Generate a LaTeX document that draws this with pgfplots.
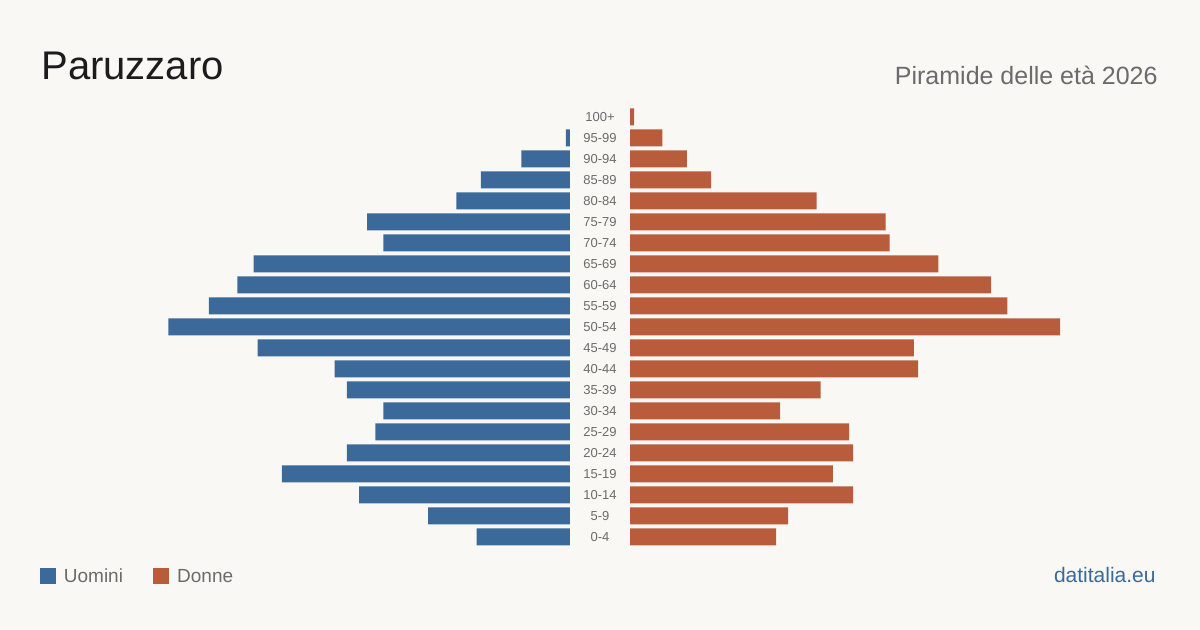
\documentclass[border=0pt]{standalone}
\usepackage{fontspec}
\setmainfont{Liberation Sans}
\usepackage{pgfplots}
\usepackage{pgfplotstable}
\pgfplotsset{compat=1.18}

\definecolor{sfondo}{HTML}{F9F8F4}
\definecolor{uomini}{HTML}{3B6A9A}
\definecolor{donne}{HTML}{B95C3C}
\definecolor{titolo}{HTML}{1C1C1C}
\definecolor{grigio}{HTML}{6B6B6B}

% Residenti per classe di età (0 = 0-4, ..., 20 = 100+)
\pgfplotstableread{
eta uomini donne
0   23  36
1   35  39
2   52  55
3   71  50
4   55  55
5   48  54
6   46  37
7   55  47
8   58  71
9   77  70
10  99  106
11  89  93
12  82  89
13  78  76
14  46  64
15  50  63
16  28  46
17  22  20
18  12  14
19  1   8
20  nan 1
}\piramide

\pgfplotsset{
  meta/.style={
    scale only axis, anchor=south west,
    width=215pt, height=220.5pt,
    xmin=0, xmax=106, ymin=-0.5, ymax=20.5,
    hide axis, clip=false, xbar, bar width=8.5pt,
    unbounded coords=discard,
  },
}

\begin{document}
\begin{tikzpicture}[x=1pt,y=1pt]
\fill[sfondo] (0,0) rectangle (600,315);

% Uomini: barre verso sinistra
\begin{axis}[meta, at={(70pt,41.25pt)}, x dir=reverse]
\addplot[fill=uomini, draw=none, bar shift=0pt] table[x=uomini, y=eta] {\piramide};
\end{axis}

% Donne: barre verso destra
\begin{axis}[meta, at={(315pt,41.25pt)}]
\addplot[fill=donne, draw=none, bar shift=0pt] table[x=donne, y=eta] {\piramide};
\end{axis}

% Classi di età al centro
\foreach \lab [count=\i from 0] in {0-4,5-9,10-14,15-19,20-24,25-29,30-34,35-39,40-44,45-49,50-54,55-59,60-64,65-69,70-74,75-79,80-84,85-89,90-94,95-99,100+}
  \node[font=\fontsize{6.5}{7}\selectfont, text=grigio, inner sep=0] at (300, 46.4+10.5*\i) {\lab};

% Titoli
\node[anchor=base west, inner sep=0, font=\fontsize{20}{24}\selectfont, text=titolo] at (20.5,275) {Paruzzaro};
\node[anchor=base east, inner sep=0, font=\fontsize{12.5}{15}\selectfont, text=grigio] at (579,272.6) {Piramide delle età 2026};

% Legenda
\fill[uomini] (20,23) rectangle (28,31);
\node[anchor=base west, inner sep=0, font=\fontsize{9.5}{11}\selectfont, text=grigio] at (31.75,23.65) {Uomini};
\fill[donne] (76.5,23) rectangle (84.5,31);
\node[anchor=base west, inner sep=0, font=\fontsize{9.5}{11}\selectfont, text=grigio] at (88.4,23.65) {Donne};

% Fonte
\node[anchor=base east, inner sep=0, font=\fontsize{10.5}{12}\selectfont, text=uomini] at (578,23.85) {datitalia.eu};

\pgfresetboundingbox
\path (0,0) rectangle (600,315);
\end{tikzpicture}
\end{document}
